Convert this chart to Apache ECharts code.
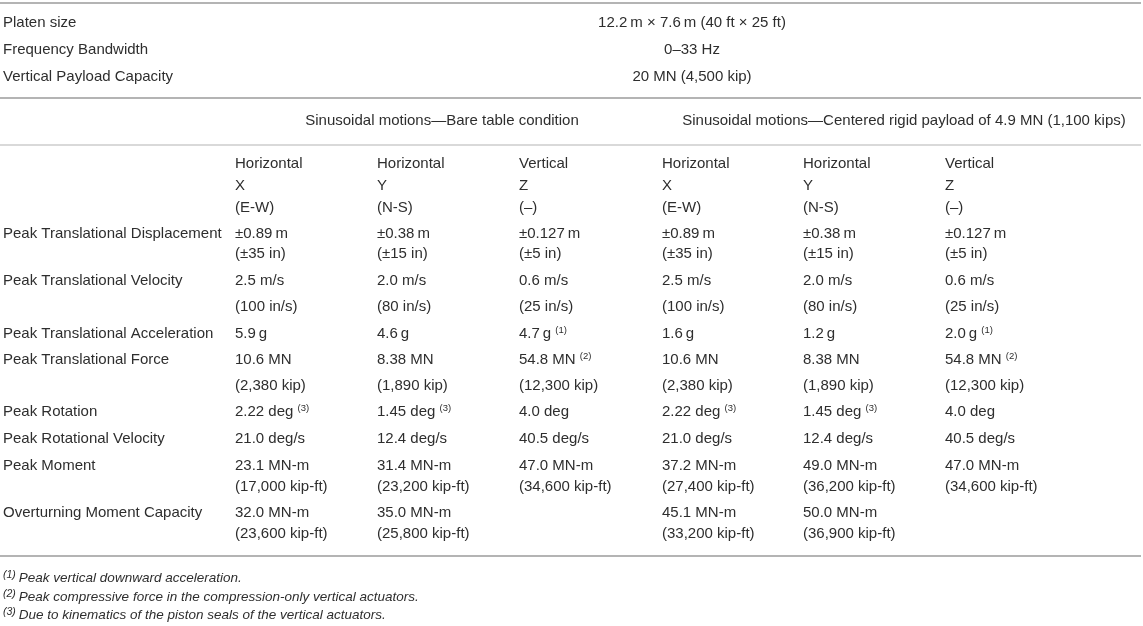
<!DOCTYPE html>
<html>
<head>
<meta charset="utf-8">
<script src="https://cdn.jsdelivr.net/npm/echarts@6/dist/echarts.min.js"></script>
<style>
html,body{margin:0;padding:0;background:#fff;}
#main{width:1143px;height:626px;}
</style>
</head>
<body>
<div id="main"></div>
<script>
// ---------------- DATA ----------------
const topLabels = ['Platen size', 'Frequency Bandwidth', 'Vertical Payload Capacity'];
const topValues = ['12.2\u2009m \u00d7 7.6\u2009m (40 ft \u00d7 25 ft)', '0\u201333 Hz', '20 MN (4,500 kip)'];
const groupHeaders = ['Sinusoidal motions\u2014Bare table condition',
  'Sinusoidal motions\u2014Centered rigid payload of 4.9 MN (1,100 kips)'];
const directionHeaders = [
  ['Horizontal', 'X', '(E-W)'],
  ['Horizontal', 'Y', '(N-S)'],
  ['Vertical', 'Z', '(\u2013)'],
  ['Horizontal', 'X', '(E-W)'],
  ['Horizontal', 'Y', '(N-S)'],
  ['Vertical', 'Z', '(\u2013)']
];
const rowLabels = ['Peak Translational Displacement', 'Peak Translational Velocity',
  'Peak Translational Acceleration', 'Peak Translational Force', 'Peak Rotation',
  'Peak Rotational Velocity', 'Peak Moment', 'Overturning Moment Capacity'];
// "^(n)" marks a superscript footnote reference
const bareX = [['\u00b10.89\u2009m', '(\u00b135 in)'], ['2.5 m/s', '(100 in/s)'], ['5.9\u2009g'],
  ['10.6 MN', '(2,380 kip)'], ['2.22 deg ^(3)'], ['21.0 deg/s'],
  ['23.1 MN-m', '(17,000 kip-ft)'], ['32.0 MN-m', '(23,600 kip-ft)']];
const bareY = [['\u00b10.38\u2009m', '(\u00b115 in)'], ['2.0 m/s', '(80 in/s)'], ['4.6\u2009g'],
  ['8.38 MN', '(1,890 kip)'], ['1.45 deg ^(3)'], ['12.4 deg/s'],
  ['31.4 MN-m', '(23,200 kip-ft)'], ['35.0 MN-m', '(25,800 kip-ft)']];
const bareZ = [['\u00b10.127\u2009m', '(\u00b15 in)'], ['0.6 m/s', '(25 in/s)'], ['4.7\u2009g ^(1)'],
  ['54.8 MN ^(2)', '(12,300 kip)'], ['4.0 deg'], ['40.5 deg/s'],
  ['47.0 MN-m', '(34,600 kip-ft)'], []];
const payloadX = [['\u00b10.89\u2009m', '(\u00b135 in)'], ['2.5 m/s', '(100 in/s)'], ['1.6\u2009g'],
  ['10.6 MN', '(2,380 kip)'], ['2.22 deg ^(3)'], ['21.0 deg/s'],
  ['37.2 MN-m', '(27,400 kip-ft)'], ['45.1 MN-m', '(33,200 kip-ft)']];
const payloadY = [['\u00b10.38\u2009m', '(\u00b115 in)'], ['2.0 m/s', '(80 in/s)'], ['1.2\u2009g'],
  ['8.38 MN', '(1,890 kip)'], ['1.45 deg ^(3)'], ['12.4 deg/s'],
  ['49.0 MN-m', '(36,200 kip-ft)'], ['50.0 MN-m', '(36,900 kip-ft)']];
const payloadZ = [['\u00b10.127\u2009m', '(\u00b15 in)'], ['0.6 m/s', '(25 in/s)'], ['2.0\u2009g ^(1)'],
  ['54.8 MN ^(2)', '(12,300 kip)'], ['4.0 deg'], ['40.5 deg/s'],
  ['47.0 MN-m', '(34,600 kip-ft)'], []];
const footnoteMarks = ['(1)', '(2)', '(3)'];
const footnoteTexts = ['Peak vertical downward acceleration.',
  'Peak compressive force in the compression-only vertical actuators.',
  'Due to kinematics of the piston seals of the vertical actuators.'];

// ---------------- LAYOUT ----------------
const W = 1143, H = 626;
const labelX = 3;
const colX = [235, 377, 519, 662, 803, 945];
const topRowY = [23, 50, 77];
const topValueX = 692;
const groupCenterX = [442, 904];
const groupY = 121;
const headerLineY = [164, 186, 208];
const rowLineY = [[234, 254], [281, 307], [334], [360, 386], [412], [439], [466, 487], [513, 534]];
const footY = [578, 597, 615];
const rules = [[0, 3, 1141, 2], [0, 98, 1141, 2], [0, 145, 1141, 1.2], [0, 556, 1141, 2]];

// ---------------- BUILD ----------------
const cells = [];
function add(x, y, text, kind, align) { cells.push({x, y, text, kind, align: align || 'left'}); }
topLabels.forEach((t, i) => add(labelX, topRowY[i], t, 'body'));
topValues.forEach((t, i) => add(topValueX, topRowY[i], t, 'body', 'center'));
groupHeaders.forEach((t, i) => add(groupCenterX[i], groupY, t, 'body', 'center'));
directionHeaders.forEach((lines, c) => lines.forEach((t, k) => add(colX[c], headerLineY[k], t, 'body')));
rowLabels.forEach((t, r) => add(labelX, rowLineY[r][0], t, 'body'));
[bareX, bareY, bareZ, payloadX, payloadY, payloadZ].forEach((col, c) => {
  col.forEach((cell, r) => cell.forEach((t, k) => add(colX[c], rowLineY[r][k], t, 'body')));
});
footnoteTexts.forEach((t, i) => add(labelX, footY[i], '^' + footnoteMarks[i] + t, 'foot'));

function toRich(text, kind) {
  const parts = text.split(/(\^\(\d\))/).filter(s => s.length);
  return parts.map(p => {
    if (p.startsWith('^')) return '{' + (kind === 'foot' ? 'fs' : 's') + '|' + p.slice(1) + '}';
    return '{' + (kind === 'foot' ? 'f' : 't') + '|' + p + '}';
  }).join('');
}
const FONT = "'Liberation Sans', Arial, Helvetica, sans-serif";
const COLOR = '#2e2e2e';
const RICH = {
  t: {fontSize: 15, lineHeight: 18, fontFamily: FONT, fill: COLOR, color: COLOR},
  s: {fontSize: 9.5, lineHeight: 10, fontFamily: FONT, fill: COLOR, color: COLOR, verticalAlign: 'top'},
  f: {fontSize: 13.5, lineHeight: 17, fontFamily: FONT, fontStyle: 'italic', fill: COLOR, color: COLOR},
  fs: {fontSize: 10.5, lineHeight: 11, fontFamily: FONT, fontStyle: 'italic', fill: COLOR, color: COLOR, verticalAlign: 'top', padding: [0, 3, 0, 0]}
};

const chart = echarts.init(document.getElementById('main'), null, {renderer: 'canvas'});
chart.setOption({
  backgroundColor: '#ffffff',
  animation: false,
  grid: {left: 0, right: 0, top: 0, bottom: 0},
  xAxis: {type: 'value', min: 0, max: W, show: false},
  yAxis: {type: 'value', min: 0, max: H, inverse: true, show: false},
  series: [
    {
      type: 'custom',
      data: rules,
      renderItem: function (params, api) {
        const p1 = api.coord([api.value(0), api.value(1)]);
        const p2 = api.coord([api.value(2), api.value(1)]);
        return {type: 'line', shape: {x1: p1[0], y1: p1[1], x2: p2[0], y2: p2[1]},
          style: {stroke: '#b4b4b4', lineWidth: api.value(3)}};
      }
    },
    {
      type: 'custom',
      data: cells.map((c, i) => [c.x, c.y, i]),
      renderItem: function (params, api) {
        const c = cells[api.value(2)];
        const p = api.coord([api.value(0), api.value(1)]);
        return {type: 'text', x: p[0], y: p[1],
          style: {text: toRich(c.text, c.kind), rich: RICH, align: c.align, verticalAlign: 'middle',
            fontFamily: FONT, fontSize: 15, fill: COLOR}};
      }
    }
  ]
});
</script>
</body>
</html>
